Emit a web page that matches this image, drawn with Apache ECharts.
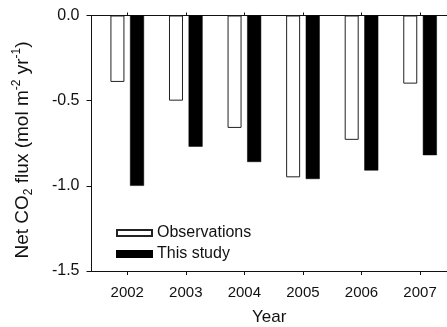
<!DOCTYPE html>
<html>
<head>
<meta charset="utf-8">
<script src="https://cdn.jsdelivr.net/npm/echarts@6/dist/echarts.min.js"></script>
<style>
  html, body { margin: 0; padding: 0; background: #fff; }
  #chart { width: 447px; height: 327px; }
</style>
</head>
<body>
<div id="chart"></div>
<script>
// Annual net CO2 flux, observed vs. modelled
const years = [2002, 2003, 2004, 2005, 2006, 2007];
const observations = [-0.39, -0.50, -0.66, -0.95, -0.73, -0.40];
const thisStudy = [-1.00, -0.77, -0.86, -0.96, -0.91, -0.82];
const yTicks = [0, -0.5, -1.0, -1.5];

const FONT = '"Liberation Sans", Arial, Helvetica, sans-serif';
const INK = '#111';

const chart = echarts.init(document.getElementById('chart'), null, { renderer: 'canvas' });

const pairs = vals => years.map((y, i) => [y, vals[i]]);

const xBase = {
  type: 'value',
  min: 2001.39,
  max: 2007.46,
  splitLine: { show: false },
  axisLine: { show: true, onZero: false, lineStyle: { color: INK, width: 1 } }
};

chart.setOption({
  animation: false,
  backgroundColor: '#fff',
  textStyle: { fontFamily: FONT, color: INK },
  grid: { left: 91.5, top: 15.5, right: 0, bottom: 56, containLabel: false, outerBoundsMode: 'none' },
  legend: {
    orient: 'vertical',
    left: 111,
    top: 219,
    itemWidth: 35,
    itemHeight: 6,
    itemGap: 3,
    icon: 'rect',
    textStyle: { fontFamily: FONT, fontSize: 16, color: INK, lineHeight: 18 },
    data: ['Observations', 'This study']
  },
  xAxis: [
    Object.assign({}, xBase, {
      position: 'bottom',
      name: 'Year',
      nameLocation: 'middle',
      nameGap: 38,
      nameTextStyle: { fontFamily: FONT, fontSize: 17, color: INK },
      axisTick: { show: true, inside: false, length: 4, customValues: years, lineStyle: { color: INK } },
      axisLabel: { show: true, margin: 14, fontFamily: FONT, fontSize: 15, color: INK, customValues: years, formatter: v => String(v) }
    }),
    Object.assign({}, xBase, {
      position: 'top',
      axisTick: { show: true, inside: false, length: 3, customValues: years, lineStyle: { color: INK } },
      axisLabel: { show: false }
    })
  ],
  yAxis: {
    type: 'value',
    min: -1.5,
    max: 0,
    interval: 0.5,
    splitLine: { show: false },
    axisLine: { show: true, onZero: false, lineStyle: { color: INK, width: 1 } },
    axisTick: { show: true, inside: false, length: 5, lineStyle: { color: INK } },
    axisLabel: { margin: 12, fontFamily: FONT, fontSize: 16, color: INK, formatter: v => Math.abs(v) < 1e-9 ? '0.0' : v.toFixed(1) }
  },
  graphic: [{
    type: 'text',
    x: 23,
    y: 150,
    rotation: Math.PI / 2,
    style: {
      text: '{m|Net CO}{sub|2}{m| flux (mol m}{sup|-2}{m| yr}{sup|-1}{m|)}',
      align: 'center',
      verticalAlign: 'middle',
      fill: INK,
      font: '18px ' + FONT,
      rich: {
        m: { fontFamily: FONT, fontSize: 19, lineHeight: 24, fill: INK },
        sub: { fontFamily: FONT, fontSize: 12, lineHeight: 12, verticalAlign: 'bottom', fill: INK },
        sup: { fontFamily: FONT, fontSize: 12, lineHeight: 12, verticalAlign: 'top', fill: INK }
      }
    }
  }],
  series: [
    {
      name: 'Observations',
      type: 'bar',
      xAxisIndex: 0,
      barWidth: 14,
      barGap: '40%',
      itemStyle: { color: '#fff', borderColor: '#222', borderWidth: 1 },
      data: pairs(observations)
    },
    {
      name: 'This study',
      type: 'bar',
      xAxisIndex: 0,
      barWidth: 14,
      barGap: '40%',
      itemStyle: { color: '#000', borderColor: '#000', borderWidth: 0.5 },
      data: pairs(thisStudy)
    }
  ]
});
</script>
</body>
</html>
